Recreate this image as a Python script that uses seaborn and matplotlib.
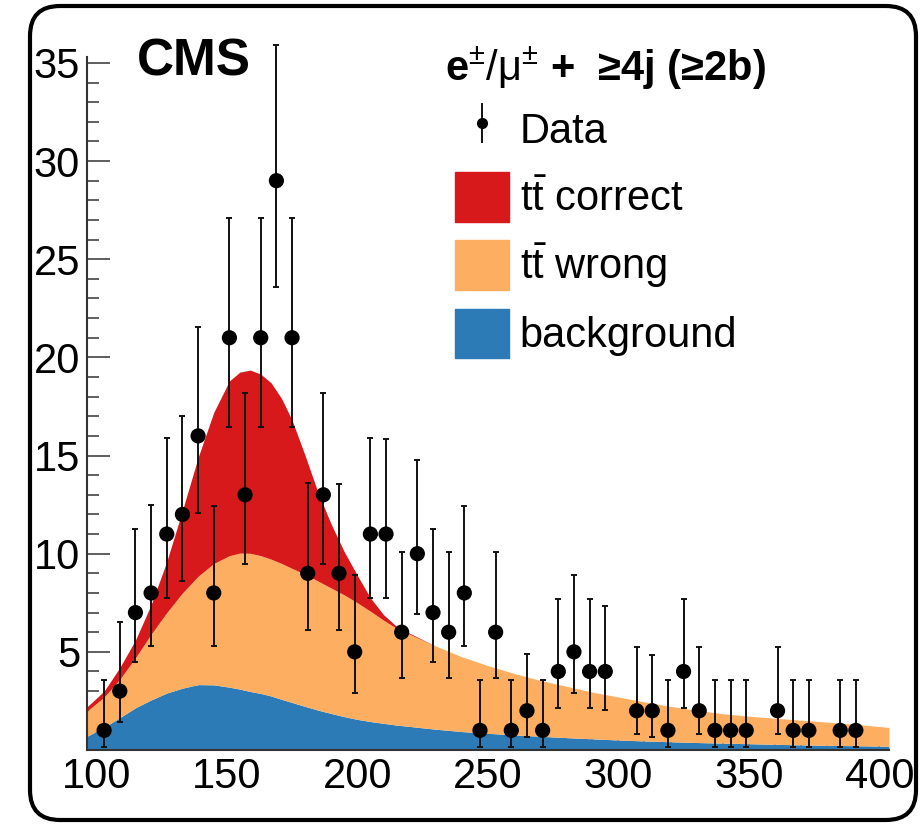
import matplotlib
matplotlib.use("Agg")
import matplotlib.pyplot as plt
from matplotlib.patches import Patch, FancyBboxPatch
from matplotlib.lines import Line2D
from matplotlib.ticker import MultipleLocator
import numpy as np
import seaborn as sns

# data points: bin centres (6 GeV bins), counts and error-bar ends
data_x = [103, 109, 115, 121, 127, 133, 139, 145, 151, 157, 163, 169, 175, 181, 187,
          193, 199, 205, 211, 217, 223, 229, 235, 241, 247, 253, 259, 265, 271, 277,
          283, 289, 295, 307, 313, 319, 325, 331, 337, 343, 349, 361, 367, 373, 385, 391]
data_y = [1, 3, 7, 8, 11, 12, 16, 8, 21, 13, 21, 29, 21, 9, 13,
          9, 5, 11, 11, 6, 10, 7, 6, 8, 1, 6, 1, 2, 1, 4,
          5, 4, 4, 2, 2, 1, 4, 2, 1, 1, 1, 2, 1, 1, 1, 1]
data_hi = [3.55, 6.5, 11.27, 12.46, 15.87, 17.02, 21.55, 12.44, 27.1, 18.17, 27.1, 35.9, 27.1, 13.6, 18.17,
           13.55, 8.9, 15.9, 15.85, 10.09, 14.77, 11.26, 10.07, 12.44, 3.55, 10.1, 3.55, 4.87, 3.55, 7.7,
           8.93, 7.7, 7.35, 5.23, 4.86, 3.55, 7.7, 5.23, 3.55, 3.55, 3.55, 5.23, 3.55, 3.55, 3.55, 3.55]
data_lo = [0.15, 1.45, 4.47, 5.29, 7.76, 8.61, 12.05, 5.29, 16.46, 9.46, 16.46, 23.6, 16.46, 6.1, 9.46,
           6.1, 2.9, 7.76, 7.76, 3.68, 6.95, 4.47, 3.68, 5.29, 0.15, 3.66, 0.15, 0.68, 0.15, 2.15,
           2.91, 2.15, 2.05, 0.83, 0.68, 0.15, 2.15, 0.83, 0.15, 0.15, 0.15, 0.83, 0.15, 0.15, 0.15, 0.15]

# stacked model curves (upper edge of each stack)
curve_x = [96.44, 103, 109, 115, 121, 127, 133, 139, 145, 151, 155, 159, 163, 167, 171,
           175, 180, 185, 190, 195, 200, 205, 210, 215, 220, 230, 240, 250, 260, 270,
           280, 290, 300, 310, 320, 330, 340, 350, 360, 370, 380, 390, 403.7]
bkg_top = [0.70, 1.15, 1.65, 2.15, 2.55, 2.9, 3.15, 3.33, 3.32, 3.2, 3.1, 2.98, 2.88, 2.75, 2.58,
           2.42, 2.22, 2.03, 1.86, 1.7, 1.56, 1.45, 1.36, 1.27, 1.2, 1.06, 0.94, 0.85, 0.77, 0.7,
           0.63, 0.57, 0.51, 0.46, 0.42, 0.38, 0.35, 0.32, 0.29, 0.26, 0.24, 0.22, 0.19]
wrong_top = [1.98, 2.7, 3.6, 4.7, 5.9, 7.0, 8.0, 8.85, 9.5, 9.9, 10.03, 10.02, 9.9, 9.72, 9.5,
             9.25, 8.95, 8.6, 8.25, 7.9, 7.5, 7.07, 6.62, 6.2, 5.9, 5.3, 4.75, 4.3, 3.9, 3.55,
             3.25, 2.95, 2.7, 2.45, 2.22, 2.02, 1.85, 1.72, 1.62, 1.52, 1.42, 1.32, 1.15]
# tt correct only visible up to ~230
correct_top = [2.2, 3.0, 4.2, 5.6, 7.4, 9.6, 12.2, 14.9, 17.2, 18.8, 19.25, 19.35, 19.15, 18.7, 17.9,
               16.8, 15.0, 13.1, 11.5, 10.1, 8.9, 7.75, 6.9, 6.3, 5.95, 5.3]

labels = ['Data', r't$\bar{\mathrm{t}}$ correct', r't$\bar{\mathrm{t}}$ wrong', 'background']
c_red, c_orange, c_blue = '#d7191c', '#fdae61', '#2c7bb6'

sns.set_theme(style="ticks")
plt.rcParams['font.family'] = ['Liberation Sans', 'DejaVu Sans']
plt.rcParams['text.color'] = 'black'
plt.rcParams['mathtext.fontset'] = 'custom'
plt.rcParams['mathtext.rm'] = 'Liberation Sans'
plt.rcParams['mathtext.bf'] = 'Liberation Sans:bold'
plt.rcParams['mathtext.it'] = 'Liberation Sans:italic'

fig = plt.figure(figsize=(9.22, 8.32), dpi=100)
ax = fig.add_axes([87/922, 82/832, 802/922, 693/832])

n_sig = len(correct_top)
ax.fill_between(curve_x, 0, bkg_top, color=c_blue, lw=0, zorder=1)
ax.fill_between(curve_x, bkg_top, wrong_top, color=c_orange, lw=0, zorder=1)
ax.fill_between(curve_x[:n_sig], wrong_top[:n_sig], correct_top, color=c_red, lw=0, zorder=1)

yerr = [np.array(data_y) - np.array(data_lo), np.array(data_hi) - np.array(data_y)]
ax.errorbar(data_x, data_y, yerr=yerr, fmt='none', ecolor='#111111', elinewidth=1.4,
            capsize=2.5, capthick=1.4, clip_on=False, zorder=3)
sns.scatterplot(x=data_x, y=data_y, ax=ax, color='black', s=120, edgecolor='none',
                zorder=4, legend=False, clip_on=False)

ax.set_xlim(96.44, 403.7)
ax.set_ylim(0, 35.3)
ax.set_xticks([100, 150, 200, 250, 300, 350, 400])
ax.set_yticks([5, 10, 15, 20, 25, 30, 35])
ax.xaxis.set_minor_locator(MultipleLocator(10))
ax.yaxis.set_minor_locator(MultipleLocator(1))
ax.tick_params(which='both', direction='in', top=False, right=False, color='#333333',
               labelsize=30, labelcolor='black', width=1.1)
ax.tick_params(which='major', length=16.5, pad=5)
ax.tick_params(which='minor', length=8.6)
sns.despine(ax=ax)
for s in ['left', 'bottom']:
    ax.spines[s].set_linewidth(1.5)
    ax.spines[s].set_color('#333333')
ax.set_facecolor('white')

fig.text(137/922, 1 - 62/832, 'CMS', fontsize=37, fontweight='bold', va='center', ha='left',
         color='black')
fig.text(445/922, 1 - 68/832, r'$\mathbf{e}^{\pm}/\mathrm{\mu}^{\pm}$ +  ≥4j (≥2b)', fontsize=30,
         fontweight='bold', va='center', ha='left', color='black')

data_handle = (Line2D([], [], color='#111111', marker='|', markersize=29, mew=1.4, ls='none'),
               Line2D([], [], color='black', marker='o', markersize=7, ls='none'))
handles = [data_handle, Patch(color=c_red), Patch(color=c_orange), Patch(color=c_blue)]
leg = fig.legend(handles, labels, loc='upper left', bbox_to_anchor=(455/922, 1 - 104/832),
                 bbox_transform=fig.transFigure, frameon=False, fontsize=30, borderpad=0,
                 borderaxespad=0, handlelength=1.3, handleheight=1.45, labelspacing=0.45,
                 handletextpad=0.25)
for t in leg.get_texts():
    t.set_color('black')

frame = FancyBboxPatch((0.30, 0.12), 8.86, 8.14, boxstyle="round,pad=0,rounding_size=0.3",
                       transform=fig.dpi_scale_trans, fill=False, lw=3, edgecolor='black')
fig.add_artist(frame)

fig.savefig('out.png', dpi=100)
